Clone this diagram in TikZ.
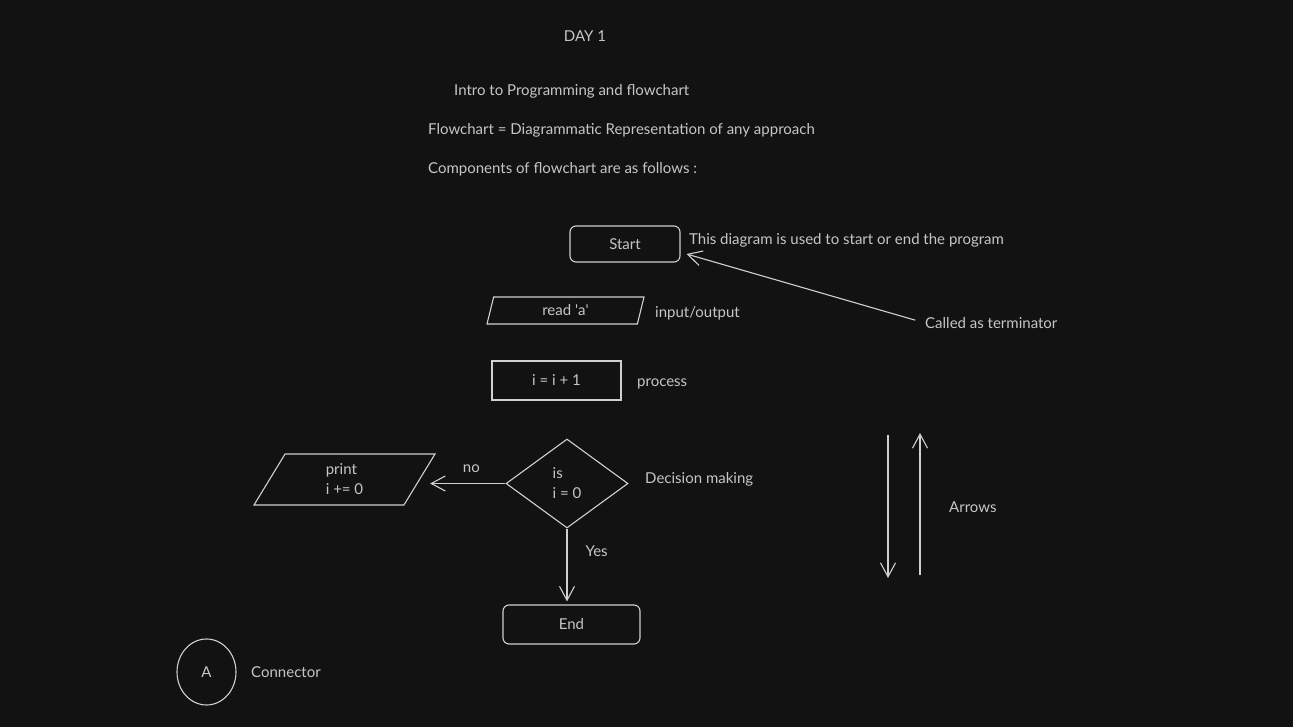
\documentclass[tikz,border=0pt]{standalone}
\usepackage{fontspec}
\setmainfont{Lato}
\usetikzlibrary{positioning,arrows.meta,shapes.geometric}
\definecolor{board}{HTML}{121212}
\definecolor{ink}{HTML}{D0D0D0}
\definecolor{txt}{HTML}{C6C6C6}

\begin{document}
\begin{tikzpicture}[
  x=1pt, y=-1pt,
  font=\fontsize{15}{20}\selectfont, text=txt,
  symbol/.style={draw=ink, line width=1.1pt, inner sep=0pt, align=center},
  term/.style={symbol, rectangle, rounded corners=6pt,
               minimum width=#1, minimum height=36pt},
  io/.style={symbol, trapezium, trapezium stretches body=true,
             trapezium left angle=#1, trapezium right angle=180-#1},
  proc/.style={symbol, rectangle, minimum width=129pt, minimum height=39pt},
  decide/.style={symbol, diamond, minimum width=122pt, minimum height=89pt, align=left},
  conn/.style={symbol, ellipse, minimum width=59pt, minimum height=66pt},
  note/.style={inner sep=0pt, anchor=west, text height=12pt, text depth=2pt},
  arrow/.style={-{Straight Barb[length=14pt, width=15pt]}, draw=ink, line width=1.1pt},
  lbl/.style={inner sep=0pt, text height=12pt, text depth=2pt},
]
\useasboundingbox[fill=board] (0,0) rectangle (1293,727);

% ---- heading lines ----
\node[lbl] (day) at (585,37) {DAY 1};
\node[note] (intro) at (454,91) {Intro to Programming and flowchart};
\node[note] (defn) at (428,130) {Flowchart = Diagrammatic Representation of any approach};
\node[note] (comps) at (428,169) {Components of flowchart are as follows :};

% ---- flowchart symbols ----
\node[term=110pt] (start) at (625,244) {Start};
\node[io=59.3, minimum width=157pt, minimum height=27pt] (read) at (565.5,310.5)
  {read \textquotesingle a\textquotesingle};
\node[proc] (step) at (556.5,380.5) {i = i + 1};
\node[decide] (test) at (567,483.5) {is\\i = 0};
\node[io=45, minimum width=181pt, minimum height=51pt, align=left] (show) at (344.5,479.5) {print\\i += 0};
\node[term=137pt, minimum height=39pt] (stop) at (571.5,624.5) {End};
\node[conn] (link) at (206.5,672) {A};

% ---- what each symbol means ----
\node[note] (startnote) at (689,240) {This diagram is used to start or end the program};
\node[note] (termnote) at (925,323) {Called as terminator};
\node[note] (readnote) at (655,312) {input/output};
\node[note] (stepnote) at (637,381) {process};
\node[note] (testnote) at (645,478) {Decision making};
\node[note] (linknote) at (251,672) {Connector};
\node[note] (arrownote) at (949,507) {Arrows};

% ---- connectors ----
\draw[arrow, shorten <=10pt] (termnote.west) -- ([shift={(6,10)}]start.east);
\draw[arrow, shorten >=10pt] (test.west) -- node[lbl, pos=0.4, above=8pt]{no} (test.west -| show.east);
\draw[arrow, shorten >=3pt] (test.south) -- node[lbl, pos=0.3, right=18pt]{Yes} (test.south |- stop.north);

% ---- sample arrows ----
\coordinate (downtop) at (888,435);
\coordinate (downend) at (888,578);
\coordinate (upfoot) at (920,575);
\coordinate (uptop) at (920,433);
\draw[arrow] (downtop) -- (downend);
\draw[arrow] (upfoot) -- (uptop);

\end{tikzpicture}
\end{document}
